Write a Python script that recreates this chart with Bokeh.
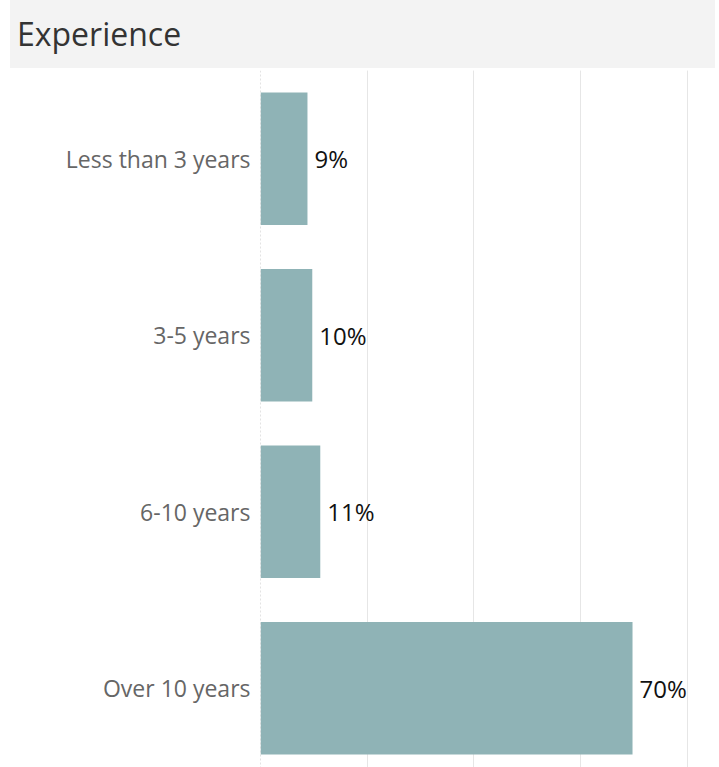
from bokeh.plotting import figure
from bokeh.models import Range1d, FixedTicker, Grid, Span, Div, ColumnDataSource
from bokeh.layouts import column
from bokeh.core.properties import value
from bokeh.embed import file_html
from bokeh.resources import INLINE

categories = ["Less than 3 years", "3-5 years", "6-10 years", "Over 10 years"]
shares = [8.8, 9.7, 11.2, 69.7]
share_labels = ["9%", "10%", "11%", "70%"]
grid_ticks = [20, 40, 60, 80]

FONT = "Open Sans"
positions = list(range(len(categories)))

src = ColumnDataSource(dict(y=positions, v=shares, lab=share_labels))

title = Div(text="Experience", width=705, height=68, margin=(0, 0, 0, 10),
            styles={"background-color": "#f3f3f3", "font-family": FONT,
                    "font-size": "32px", "color": "#333333",
                    "padding-left": "7px", "line-height": "68px",
                    "box-sizing": "border-box"})

p = figure(width=719, height=699, output_backend="svg", toolbar_location=None,
           x_range=Range1d(0, 85.06), y_range=Range1d(3.449, -0.5),
           x_axis_location=None, min_border_left=260, min_border_top=2,
           min_border_right=5, min_border_bottom=0)
p.outline_line_color = None
p.ygrid.visible = False

g = Grid(dimension=0, ticker=FixedTicker(ticks=grid_ticks),
         grid_line_color="#e6e6e6", grid_line_width=1)
p.add_layout(g)
p.add_layout(Span(location=0, dimension="height", line_color="#c8c8c8",
                  line_dash="2 2", line_width=1))

p.hbar(y="y", left=0, right="v", height=0.75, source=src,
       fill_color="#8fb3b6", line_color=None)
p.text(x="v", y="y", text="lab", source=src, x_offset=7,
       text_baseline="middle", text_align="left",
       text_font=value(FONT), text_font_size="24px", text_color="#111111")

ax = p.yaxis[0]
ax.ticker = FixedTicker(ticks=positions)
ax.major_label_overrides = {i: c for i, c in zip(positions, categories)}
ax.axis_line_color = None
ax.major_tick_line_color = None
ax.minor_tick_line_color = None
ax.major_tick_out = 0
ax.major_label_standoff = 10
ax.major_label_text_font = FONT
ax.major_label_text_font_size = "23px"
ax.major_label_text_color = "#666666"

layout = column(title, p, spacing=0)
open("out.html", "w").write(file_html(layout, INLINE))
